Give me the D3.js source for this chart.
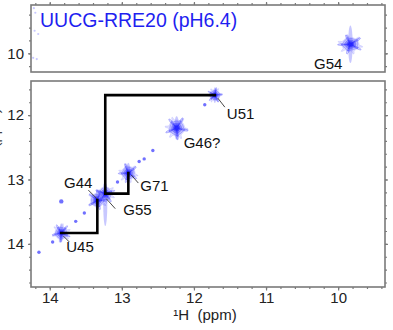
<!DOCTYPE html>
<html>
<head>
<meta charset="utf-8">
<script src="https://cdn.jsdelivr.net/npm/d3@7"></script>
<style>
  html, body { margin: 0; padding: 0; background: #fff; }
  svg { display: block; font-family: "Liberation Sans", Arial, sans-serif; }
</style>
</head>
<body>
<svg id="chart" width="393" height="330"></svg>
<script>
// ---------------- DATA ----------------
const title = "UUCG-RRE20 (pH6.4)";
// diagonal imino peaks: label, 1H shift (x, ppm), 1H shift (y, ppm), relative intensity
const peakLabels = ["U45", "G44", "G55", "G71", "G46?", "U51"];
const peakX      = [13.84, 13.34, 13.23, 12.91, 12.24, 11.71];
const peakY      = [13.83, 13.32, 13.22, 12.90, 12.20, 11.69];
const peakInt    = [0.80, 0.85, 0.85, 0.85, 1.00, 0.65];
// upfield peak shown in the upper strip
const topLabels = ["G54"];
const topX      = [9.83];
const topY      = [9.86];
const topInt    = [0.95];
// sequential NOE walk (from, to)
const walkFrom = ["U45", "G55", "U51"];
const walkTo   = ["G44", "G71", "G55"];
// weak diagonal / noise points (ppm)
const dotX = [14.15, 13.96, 13.64, 13.52, 13.06, 12.76, 12.69, 12.57, 11.85, 13.84];
const dotY = [14.13, 13.97, 13.65, 13.52, 13.04, 12.72, 12.68, 12.55, 11.84, 13.34];
const topNoiseX = [14.22, 14.20, 14.21, 14.16, 14.23, 14.18];
const topNoiseY = [9.30, 9.37, 9.65, 9.70, 10.07, 10.09];
// axes
const xDomain = [14.26, 9.35];
const yDomainBottom = [11.47, 14.67];
const yDomainTop = [9.25, 10.29];
const xTicks = [14, 13, 12, 11, 10];
const yTicksBottom = [12, 13, 14];
const yTicksTop = [10];
const xLabel = "\u00B9H\u00A0\u00A0(ppm)";

// ---------------- LAYOUT ----------------
const svg = d3.select("#chart");
const L = 31, R = 385;
const topBox = {y0: 5, y1: 72};
const botBox = {y0: 81, y1: 287};
const x = d3.scaleLinear().domain(xDomain).range([L, R]);
const yB = d3.scaleLinear().domain(yDomainBottom).range([botBox.y0, botBox.y1]);
const yT = d3.scaleLinear().domain(yDomainTop).range([topBox.y0, topBox.y1]);
const rScale = d3.scaleLinear().domain([0, 1]).range([0, 11]);

const axisCol = "#7a7a7a";
const blue = "#2323ff";

const defs = svg.append("defs");
[["clipTop", topBox], ["clipBot", botBox]].forEach(([id, b]) => {
  defs.append("clipPath").attr("id", id).append("rect")
    .attr("x", L).attr("y", b.y0).attr("width", R - L).attr("height", b.y1 - b.y0);
});

function minorTicks(domain, step) {
  const lo = Math.min(...domain), hi = Math.max(...domain);
  const out = [];
  for (let v = Math.ceil(lo / step) * step; v <= hi + 1e-9; v += step) out.push(+v.toFixed(3));
  return out;
}

function styleAxis(g) {
  g.select(".domain").remove();
  g.selectAll(".tick line").attr("stroke", axisCol).attr("stroke-width", 1.2);
  g.selectAll(".tick text").attr("fill", "#222").style("font-size", "15px")
    .style("font-family", "'Liberation Sans', Arial, sans-serif");
}

function panelAxes(y, box, yTicks, sides) {
  const yMinor = minorTicks(y.domain(), 0.2);
  const xMinor = minorTicks(x.domain(), 0.2);
  svg.append("g").attr("transform", `translate(${L},0)`)
    .call(d3.axisLeft(y).tickValues(yMinor).tickSize(2).tickFormat("")).call(styleAxis);
  svg.append("g").attr("transform", `translate(${L},0)`)
    .call(d3.axisLeft(y).tickValues(yTicks).tickSize(3).tickPadding(4).tickFormat(d3.format("d"))).call(styleAxis);
  svg.append("g").attr("transform", `translate(${R},0)`)
    .call(d3.axisRight(y).tickValues(yMinor).tickSize(2).tickFormat("")).call(styleAxis);
  svg.append("g").attr("transform", `translate(${R},0)`)
    .call(d3.axisRight(y).tickValues(yTicks).tickSize(3).tickFormat("")).call(styleAxis);
  if (sides.includes("top")) {
    svg.append("g").attr("transform", `translate(0,${box.y0})`)
      .call(d3.axisTop(x).tickValues(xMinor).tickSize(2).tickFormat("")).call(styleAxis);
    svg.append("g").attr("transform", `translate(0,${box.y0})`)
      .call(d3.axisTop(x).tickValues(xTicks).tickSize(3).tickFormat("")).call(styleAxis);
  }
  if (sides.includes("bottom")) {
    svg.append("g").attr("transform", `translate(0,${box.y1})`)
      .call(d3.axisBottom(x).tickValues(xMinor).tickSize(2).tickFormat("")).call(styleAxis);
    svg.append("g").attr("transform", `translate(0,${box.y1})`)
      .call(d3.axisBottom(x).tickValues(xTicks).tickSize(3.5).tickPadding(1.5).tickFormat(d3.format("d"))).call(styleAxis);
  }
  svg.append("rect").attr("x", L).attr("y", box.y0).attr("width", R - L).attr("height", box.y1 - box.y0)
    .attr("fill", "none").attr("stroke", axisCol).attr("stroke-width", 1.6);
}

// star-like contour path
function starPath(cx, cy, r, spikes, phase, amp, sx, sy) {
  const pts = d3.range(0, 360, 4).map(a => {
    const t = a * Math.PI / 180;
    const k = Math.pow(Math.max(0, Math.cos(spikes * (t - phase))), 5);
    const rr = r * (1 + amp * k);
    return [cx + rr * Math.cos(t) * sx, cy + rr * Math.sin(t) * sy];
  });
  return d3.line().curve(d3.curveCatmullRomClosed)(pts);
}

function drawPeak(g, cx, cy, inten, i, opts = {}) {
  const r = rScale(inten);
  const phase = 0.4 + i * 0.9;
  g.append("ellipse").attr("cx", cx + (opts.sdx || 0)).attr("cy", cy + (opts.sdy || 0))
    .attr("rx", r * 0.22).attr("ry", r * (opts.streak || 1.2))
    .attr("fill", blue).attr("fill-opacity", 0.25);
  // pale halo
  g.append("path")
    .attr("d", starPath(cx, cy, r * 0.72, 6, phase + 0.3, 0.5, opts.sx || 1, opts.sy || 1))
    .attr("fill", "#8f8fff").attr("fill-opacity", 0.25)
    .attr("stroke", "#7777ff").attr("stroke-opacity", 0.35).attr("stroke-width", 0.6);
  const levels = [1.0, 0.72, 0.48, 0.28];
  const fo = [0.18, 0.32, 0.55, 0.9];
  levels.forEach((s, j) => {
    g.append("path")
      .attr("d", starPath(cx, cy, r * s * 0.62, 5, phase, 0.75, opts.sx || 1, opts.sy || 1))
      .attr("fill", blue).attr("fill-opacity", fo[j])
      .attr("stroke", blue).attr("stroke-opacity", 0.45).attr("stroke-width", 0.6);
  });
}

// ---------------- TOP PANEL ----------------
panelAxes(yT, topBox, yTicksTop, ["top"]);
const gTop = svg.append("g").attr("clip-path", "url(#clipTop)");
topNoiseX.forEach((h, i) => {
  gTop.append("circle").attr("cx", x(h)).attr("cy", yT(topNoiseY[i])).attr("r", 1.1)
    .attr("fill", blue).attr("fill-opacity", 0.25);
});
topX.forEach((h, i) => {
  drawPeak(gTop, x(h), yT(topY[i]), topInt[i], i + 3, {streak: 1.8, sx: 1.15, sy: 0.9});
});
svg.append("text").attr("x", 40).attr("y", 27).text(title)
  .attr("fill", "#1f1ff0").style("font-size", "19.5px");
topLabels.forEach((lab, i) => {
  svg.append("text").attr("x", x(topX[i]) - 8).attr("y", yT(topY[i]) + 25)
    .attr("text-anchor", "end").text(lab).attr("fill", "#111").style("font-size", "15px");
});

// ---------------- BOTTOM PANEL ----------------
panelAxes(yB, botBox, yTicksBottom, ["bottom"]);
const gBot = svg.append("g").attr("clip-path", "url(#clipBot)");
dotX.forEach((h, i) => {
  gBot.append("circle").attr("cx", x(h)).attr("cy", yB(dotY[i])).attr("r", i === 9 ? 2.2 : 1.7)
    .attr("fill", blue).attr("fill-opacity", 0.65);
});
peakX.forEach((h, i) => {
  drawPeak(gBot, x(h), yB(peakY[i]), peakInt[i], i, {streak: i === 2 ? 2.4 : 1.1, sdy: i === 2 ? 10 : 0});
});

// sequential walk lines
const idx = lab => peakLabels.indexOf(lab);
walkFrom.forEach((a, k) => {
  const ia = idx(a), ib = idx(walkTo[k]);
  const pts = [[peakX[ia], peakY[ia]], [peakX[ib], peakY[ia]], [peakX[ib], peakY[ib]]];
  svg.append("path").attr("d", d3.line().x(d => x(d[0])).y(d => yB(d[1]))(pts))
    .attr("fill", "none").attr("stroke", "#000").attr("stroke-width", 2.6)
    .attr("stroke-linejoin", "miter").attr("stroke-linecap", "square");
});

// labels with leader lines (offsets in px)
const labelPlace = {
  "U45":  {tx: 5,  ty: 19, anchor: "start", lead: [[2, 3], [8, 9]]},
  "G44":  {tx: -5, ty: -12, anchor: "end",  lead: [[-9, -10], [0, -1]]},
  "G55":  {tx: 18, ty: 21, anchor: "start", lead: [[1, 5], [10, 15]]},
  "G71":  {tx: 12, ty: 18, anchor: "start", lead: [[3, 2], [10, 10]]},
  "G46?": {tx: 7,  ty: 20, anchor: "start", lead: null},
  "U51":  {tx: 12, ty: 24, anchor: "start", lead: [[3, 3], [10, 12]]}
};
peakLabels.forEach((lab, i) => {
  const p = labelPlace[lab];
  const cx = x(peakX[i]), cy = yB(peakY[i]);
  if (p.lead) {
    svg.append("line").attr("x1", cx + p.lead[0][0]).attr("y1", cy + p.lead[0][1])
      .attr("x2", cx + p.lead[1][0]).attr("y2", cy + p.lead[1][1])
      .attr("stroke", "#333").attr("stroke-width", 0.9);
  }
  svg.append("text").attr("x", cx + p.tx).attr("y", cy + p.ty).attr("text-anchor", p.anchor)
    .text(lab).attr("fill", "#111").style("font-size", "15px");
});

// axis titles
svg.append("text").attr("x", 205).attr("y", 320).attr("text-anchor", "middle")
  .text(xLabel).attr("fill", "#222").style("font-size", "15px");
svg.append("text").attr("transform", "translate(-1,140) rotate(-90)").attr("text-anchor", "middle")
  .text(xLabel).attr("fill", "#444").style("font-size", "15px");
</script>
</body>
</html>
